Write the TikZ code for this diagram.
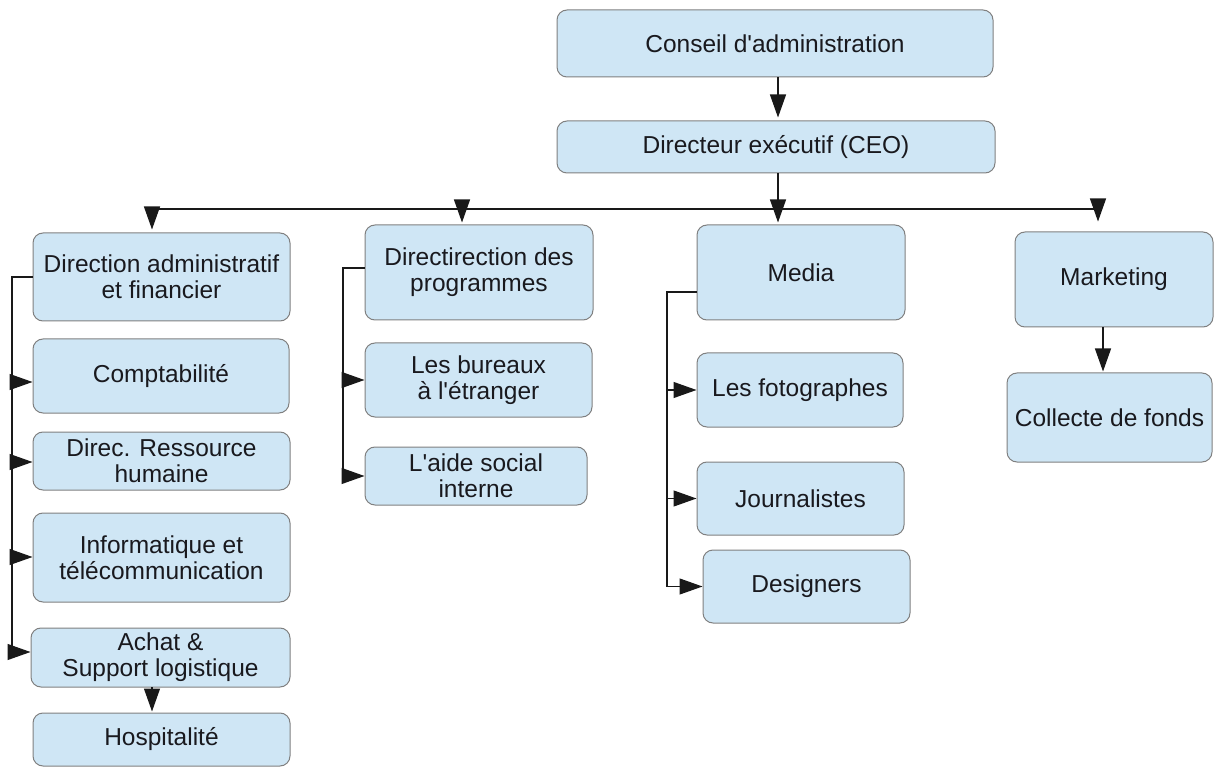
\documentclass[tikz,border=0pt]{standalone}
\usepackage{fontspec}
\newfontfamily\arialf{Liberation Sans}
\usetikzlibrary{arrows.meta}
\definecolor{boxfill}{RGB}{207,230,245}
\definecolor{boxdraw}{RGB}{128,128,128}
\definecolor{txt}{RGB}{25,25,30}
\begin{document}
\begin{tikzpicture}[x=1pt,y=-1pt,
  box/.style={draw=boxdraw, fill=boxfill, rounded corners=10pt, line width=1pt,
    align=center, inner sep=0pt, text=txt, font=\arialf\fontsize{24.5}{26}\selectfont},
  conn/.style={line width=1.2pt, draw=black!90},
  arr/.style={conn, -{Triangle[length=23pt,width=16pt]}}]
\useasboundingbox (0,0) rectangle (1216,767);

% top
\node[box, minimum width=436pt, minimum height=67pt] (conseil) at (775,43.5) {Conseil d'administration};
\node[box, minimum width=438pt, minimum height=52pt] (ceo) at (776,147) {Directeur exécutif (CEO)};

% column 1
\node[box, minimum width=257pt, minimum height=88pt] (admin) at (161.5,277) {Direction administratif\\et financier};
\node[box, minimum width=256pt, minimum height=74pt] (compta) at (161,376) {Comptabilité};
\node[box, minimum width=257pt, minimum height=58pt] (rh) at (161.5,461) {Direc. Ressource\\humaine};
\node[box, minimum width=257pt, minimum height=89pt] (info) at (161.5,557.5) {Informatique et\\télécommunication};
\node[box, minimum width=259pt, minimum height=59pt] (achat) at (160.5,657.5) {Achat \&\\Support logistique};
\node[box, minimum width=257pt, minimum height=53pt] (hosp) at (161.5,739.5) {Hospitalité};

% column 2
\node[box, minimum width=228pt, minimum height=95pt] (prog) at (479,272.5) {Directirection des\\programmes};
\node[box, minimum width=227pt, minimum height=74pt] (bureaux) at (478.5,380) {Les bureaux\\à l'étranger};
\node[box, minimum width=222pt, minimum height=58pt] (aide) at (476,476) {L'aide social\\interne};

% column 3
\node[box, minimum width=208pt, minimum height=95pt] (media) at (801,272.5) {Media};
\node[box, minimum width=206pt, minimum height=74pt] (foto) at (800,390) {Les fotographes};
\node[box, minimum width=207pt, minimum height=73pt] (journ) at (800.5,498.5) {Journalistes};
\node[box, minimum width=207pt, minimum height=73pt] (design) at (806.5,586.5) {Designers};

% column 4
\node[box, minimum width=198pt, minimum height=95pt] (mkt) at (1114,279.5) {Marketing};
\node[box, minimum width=205pt, minimum height=89pt] (collecte) at (1109.5,417.5) {Collecte de fonds};

% bus coordinates
\coordinate (b1) at (152,209);
\coordinate (b2) at (462,209);
\coordinate (b3) at (778,209);
\coordinate (b4) at (1098,209);

% top arrows
\draw[arr, shorten >=3pt] (conseil.south -| b3) -- (ceo.north -| b3);
\draw[conn] (b1) -- (b4);
\draw[arr, shorten >=2pt] (ceo.south -| b3) -- (media.north -| b3);
\draw[arr, shorten >=3pt] (b1) -- (admin.north -| b1);
\draw[arr, shorten >=2pt] (b2) -- (prog.north -| b2);
\draw[arr, shorten >=10pt] (b4) -- (mkt.north -| b4);

% column 1 connectors
\coordinate (l0) at (12,277);
\coordinate (l1) at (12,382);
\coordinate (l2) at (12,462);
\coordinate (l3) at (12,557);
\coordinate (l4) at (12,652);
\draw[conn] (admin.west) -- (l0) -- (l4);
\draw[arr] (l1) -- (l1 -| compta.west);
\draw[arr] (l2) -- (l2 -| rh.west);
\draw[arr] (l3) -- (l3 -| info.west);
\draw[arr] (l4) -- (l4 -| achat.west);
\coordinate (ah) at (152,687);
\draw[arr, shorten >=1pt] (ah) -- (hosp.north -| ah);

% column 2 connectors
\coordinate (p0) at (343,268);
\draw[conn] (p0 -| prog.west) -- (p0) -- (p0 |- aide.west);
\draw[arr] (p0 |- bureaux.west) -- (bureaux.west);
\draw[arr] (p0 |- aide.west) -- (aide.west);

% column 3 connectors
\coordinate (m0) at (667,292);
\draw[conn] (m0 -| media.west) -- (m0) -- (m0 |- design.west);
\draw[arr] (m0 |- foto.west) -- (foto.west);
\draw[arr] (m0 |- journ.west) -- (journ.west);
\draw[arr] (m0 |- design.west) -- (design.west);

% column 4 connector
\coordinate (k0) at (1103,327);
\draw[arr, shorten >=1pt] (k0) -- (collecte.north -| k0);
\end{tikzpicture}
\end{document}
